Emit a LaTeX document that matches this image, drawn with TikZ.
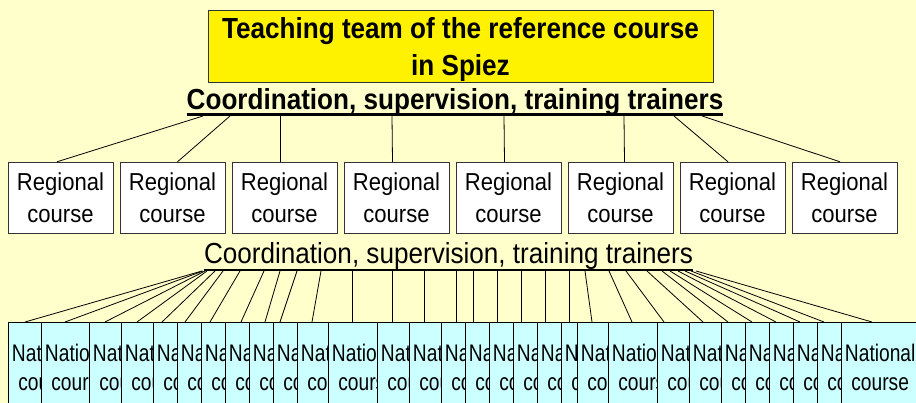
\documentclass[tikz,border=0pt]{standalone}
\usepackage{fontspec}
\setmainfont{Liberation Sans}[FakeStretch=0.9]
\newfontfamily\natfont{Liberation Sans}[FakeStretch=0.8]
\definecolor{paleyellow}{HTML}{FFFFCC}
\definecolor{palecyan}{HTML}{CCFFFF}
\definecolor{boxborder}{HTML}{333333}
\begin{document}
\begin{tikzpicture}[x=1pt,y=-1pt,
  teambox/.style={draw=boxborder,fill=yellow,minimum width=505pt,minimum height=72pt,align=center,inner sep=0pt,text depth=0pt,font=\bfseries\fontsize{29}{37}\selectfont},
  regbox/.style={draw=boxborder,fill=white,minimum width=105pt,minimum height=71pt,align=center,inner sep=0pt,font=\fontsize{24.5}{32}\selectfont},
  natbox/.style={draw=black,fill=palecyan,minimum width=78pt,minimum height=91pt,align=center,inner sep=0pt,anchor=north west,font=\natfont\fontsize{24}{29}\selectfont},
  link/.style={draw=black,line width=0.8pt}]
\useasboundingbox (0,0) rectangle (916,403);
\clip (0,0) rectangle (916,403);
\fill[paleyellow] (0,0) rectangle (916,403);
% top level
\node[teambox] (team) at (460.5,46) {Teaching team of the reference course\\in Spiez};
\node[anchor=base,inner sep=0pt,font=\bfseries\fontsize{29}{35}\selectfont] (coord1) at (455,110) {Coordination, supervision, training trainers};
\draw[line width=3pt] ([yshift=-4.5pt]coord1.base west) -- ([yshift=-4.5pt]coord1.base east);
% regional courses
\foreach \i in {1,...,8}
  \node[regbox] (reg\i) at ({60.5+112*(\i-1)},197.5) {Regional\\course};
\foreach \i/\s/\d in {1/203/-3.5,2/230/5,3/280/-4.5,4/392/-4,5/504/-4,6/624/4,7/674/-4.5,8/702/-4.5} {
  \coordinate (r\i) at (\s,116);
  \draw[link] (r\i) -- ([xshift=\d pt]reg\i.north);
}
\node[anchor=base,inner sep=0pt,font=\fontsize{29}{35}\selectfont] (coord2) at (448.5,264) {Coordination, supervision, training trainers};
\draw[line width=2.5pt] ([yshift=-6pt]coord2.base west) -- ([yshift=-6pt]coord2.base east);
% national courses
\foreach \i/\l in {1/8,2/41,3/89,4/121,5/153,6/177,7/201,8/225,9/249,10/273,
  11/297,12/328,13/377,14/409,15/441,16/465,17/489,18/513,19/537,20/561,
  21/577,22/608,23/657,24/689,25/721,26/745,27/769,28/793,29/817,30/841}
  \node[natbox] (nat\i) at (\l,322) {National\\course};
\foreach \i/\l/\s/\e in {1/8/202/25,2/41/203/65,3/89/205/105,4/121/207/137,5/153/215/162,
  6/177/223/185,7/201/240/210,8/225/264/241,9/249/280/265,10/273/297/280,11/297/321/312,
  12/328/352/352,13/377/392/392,14/409/424/424,15/441/456/456,16/465/473/473,
  17/489/497/497,18/513/521/521,19/537/545/545,20/561/569/569,21/577/585/592,
  22/608/609/632,23/657/626/664,24/689/647/703,25/721/662/728,26/745/670/752,
  27/769/678/776,28/793/685/800,29/817/691/824,30/841/696/872} {
  \coordinate (n\i) at (\s,271);
  \draw[link] (n\i) -- ([xshift=\e-\l]nat\i.north west);
}
\end{tikzpicture}
\end{document}
